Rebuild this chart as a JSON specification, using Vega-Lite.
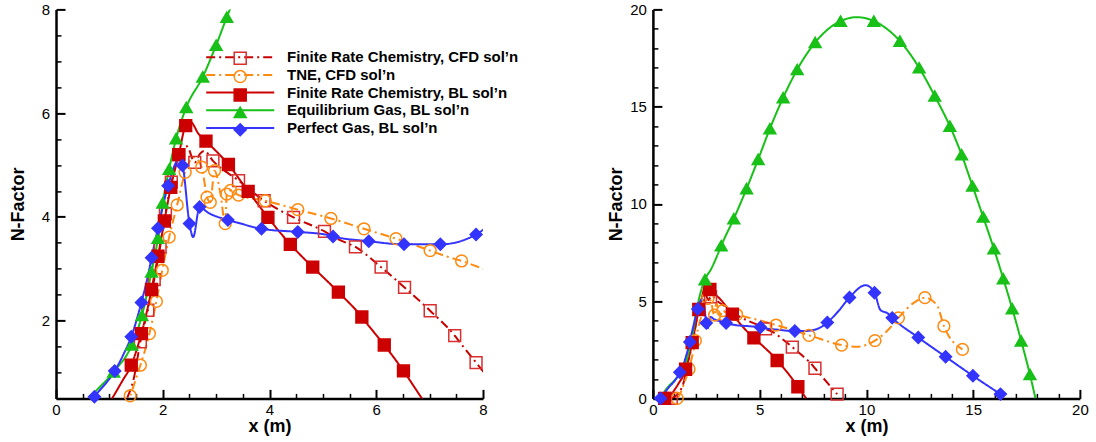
{
  "$schema": "https://vega.github.io/schema/vega-lite/v6.json",
  "padding": {"left": 9, "top": 2.4, "right": 5, "bottom": 0},
  "background": "white",
  "spacing": 87.9,
  "config": {
    "view": {"stroke": null},
    "font": "Liberation Sans",
    "axis": {
      "domainColor": "black", "domainWidth": 2.5, "tickColor": "black", "tickWidth": 2,
      "labelFont": "Liberation Sans", "labelFontSize": 15, "labelColor": "black",
      "titleFont": "Liberation Sans", "titleFontWeight": "bold", "titleFontSize": 18, "titleColor": "black",
      "grid": false, "labelFlush": false, "labelOverlap": false
    }
  },
  "resolve": {
    "scale": {"color": "independent", "strokeDash": "independent", "shape": "independent", "fill": "independent", "stroke": "independent"},
    "legend": {"color": "independent", "strokeDash": "independent", "shape": "independent", "fill": "independent", "stroke": "independent"}
  },
  "datasets": {
    "d": [
      {"s": "Finite Rate Chemistry, CFD sol’n", "x": 0.86, "y": 0, "L": 0, "R": 1},
      {"s": "Finite Rate Chemistry, CFD sol’n", "x": 1.15, "y": 0.2, "L": 0, "R": 0},
      {"s": "Finite Rate Chemistry, CFD sol’n", "x": 1.33, "y": 0.5, "L": 0, "R": 0},
      {"s": "Finite Rate Chemistry, CFD sol’n", "x": 1.46, "y": 0.9, "L": 0, "R": 0},
      {"s": "Finite Rate Chemistry, CFD sol’n", "x": 1.58, "y": 1.59, "L": 1, "R": 0},
      {"s": "Finite Rate Chemistry, CFD sol’n", "x": 1.72, "y": 2.2, "L": 1, "R": 0},
      {"s": "Finite Rate Chemistry, CFD sol’n", "x": 1.84, "y": 2.79, "L": 1, "R": 0},
      {"s": "Finite Rate Chemistry, CFD sol’n", "x": 1.95, "y": 3.42, "L": 1, "R": 0},
      {"s": "Finite Rate Chemistry, CFD sol’n", "x": 2.05, "y": 4.06, "L": 1, "R": 0},
      {"s": "Finite Rate Chemistry, CFD sol’n", "x": 2.16, "y": 4.67, "L": 1, "R": 0},
      {"s": "Finite Rate Chemistry, CFD sol’n", "x": 2.3, "y": 5.2, "L": 1, "R": 0},
      {"s": "Finite Rate Chemistry, CFD sol’n", "x": 2.45, "y": 5.36, "L": 0, "R": 0},
      {"s": "Finite Rate Chemistry, CFD sol’n", "x": 2.6, "y": 5.05, "L": 1, "R": 0},
      {"s": "Finite Rate Chemistry, CFD sol’n", "x": 2.7, "y": 5.22, "L": 0, "R": 1},
      {"s": "Finite Rate Chemistry, CFD sol’n", "x": 2.78, "y": 5.27, "L": 0, "R": 0},
      {"s": "Finite Rate Chemistry, CFD sol’n", "x": 2.94, "y": 5.08, "L": 1, "R": 0},
      {"s": "Finite Rate Chemistry, CFD sol’n", "x": 3.42, "y": 4.7, "L": 1, "R": 0},
      {"s": "Finite Rate Chemistry, CFD sol’n", "x": 3.9, "y": 4.31, "L": 1, "R": 0},
      {"s": "Finite Rate Chemistry, CFD sol’n", "x": 4.45, "y": 3.99, "L": 1, "R": 0},
      {"s": "Finite Rate Chemistry, CFD sol’n", "x": 5.03, "y": 3.72, "L": 1, "R": 0},
      {"s": "Finite Rate Chemistry, CFD sol’n", "x": 5.28, "y": 3.57, "L": 0, "R": 1},
      {"s": "Finite Rate Chemistry, CFD sol’n", "x": 5.61, "y": 3.42, "L": 1, "R": 0},
      {"s": "Finite Rate Chemistry, CFD sol’n", "x": 6.09, "y": 3.03, "L": 1, "R": 0},
      {"s": "Finite Rate Chemistry, CFD sol’n", "x": 6.53, "y": 2.64, "L": 1, "R": 1},
      {"s": "Finite Rate Chemistry, CFD sol’n", "x": 7.01, "y": 2.19, "L": 1, "R": 0},
      {"s": "Finite Rate Chemistry, CFD sol’n", "x": 7.47, "y": 1.71, "L": 1, "R": 0},
      {"s": "Finite Rate Chemistry, CFD sol’n", "x": 7.59, "y": 1.55, "L": 0, "R": 1},
      {"s": "Finite Rate Chemistry, CFD sol’n", "x": 7.87, "y": 1.19, "L": 1, "R": 0},
      {"s": "Finite Rate Chemistry, CFD sol’n", "x": 8.63, "y": 0.22, "L": 0, "R": 1},

      {"s": "TNE, CFD sol’n", "x": 1.14, "y": 0, "L": 0, "R": 1},
      {"s": "TNE, CFD sol’n", "x": 1.3, "y": 0.3, "L": 0, "R": 0},
      {"s": "TNE, CFD sol’n", "x": 1.39, "y": 0.55, "L": 1, "R": 0},
      {"s": "TNE, CFD sol’n", "x": 1.58, "y": 1.14, "L": 1, "R": 0},
      {"s": "TNE, CFD sol’n", "x": 1.69, "y": 1.51, "L": 0, "R": 1},
      {"s": "TNE, CFD sol’n", "x": 1.75, "y": 1.75, "L": 1, "R": 0},
      {"s": "TNE, CFD sol’n", "x": 1.88, "y": 2.37, "L": 1, "R": 0},
      {"s": "TNE, CFD sol’n", "x": 1.99, "y": 2.97, "L": 1, "R": 1},
      {"s": "TNE, CFD sol’n", "x": 2.12, "y": 3.61, "L": 1, "R": 0},
      {"s": "TNE, CFD sol’n", "x": 2.27, "y": 4.23, "L": 1, "R": 0},
      {"s": "TNE, CFD sol’n", "x": 2.42, "y": 4.86, "L": 1, "R": 0},
      {"s": "TNE, CFD sol’n", "x": 2.58, "y": 5.15, "L": 0, "R": 1},
      {"s": "TNE, CFD sol’n", "x": 2.73, "y": 4.96, "L": 1, "R": 0},
      {"s": "TNE, CFD sol’n", "x": 2.83, "y": 4.38, "L": 1, "R": 0},
      {"s": "TNE, CFD sol’n", "x": 2.89, "y": 4.28, "L": 1, "R": 1},
      {"s": "TNE, CFD sol’n", "x": 2.97, "y": 4.89, "L": 1, "R": 0},
      {"s": "TNE, CFD sol’n", "x": 3.08, "y": 4.45, "L": 0, "R": 0},
      {"s": "TNE, CFD sol’n", "x": 3.17, "y": 3.87, "L": 1, "R": 0},
      {"s": "TNE, CFD sol’n", "x": 3.2, "y": 4.44, "L": 1, "R": 0},
      {"s": "TNE, CFD sol’n", "x": 3.27, "y": 4.51, "L": 1, "R": 1},
      {"s": "TNE, CFD sol’n", "x": 3.42, "y": 4.42, "L": 1, "R": 0},
      {"s": "TNE, CFD sol’n", "x": 3.92, "y": 4.31, "L": 1, "R": 1},
      {"s": "TNE, CFD sol’n", "x": 4.53, "y": 4.14, "L": 1, "R": 0},
      {"s": "TNE, CFD sol’n", "x": 5.15, "y": 3.97, "L": 1, "R": 0},
      {"s": "TNE, CFD sol’n", "x": 5.77, "y": 3.77, "L": 1, "R": 1},
      {"s": "TNE, CFD sol’n", "x": 6.37, "y": 3.58, "L": 1, "R": 0},
      {"s": "TNE, CFD sol’n", "x": 7.01, "y": 3.35, "L": 1, "R": 0},
      {"s": "TNE, CFD sol’n", "x": 7.31, "y": 3.24, "L": 0, "R": 1},
      {"s": "TNE, CFD sol’n", "x": 7.6, "y": 3.15, "L": 1, "R": 0},
      {"s": "TNE, CFD sol’n", "x": 8.0, "y": 3.0, "L": 0, "R": 0},
      {"s": "TNE, CFD sol’n", "x": 8.84, "y": 2.74, "L": 0, "R": 1},
      {"s": "TNE, CFD sol’n", "x": 9.57, "y": 2.65, "L": 0, "R": 0},
      {"s": "TNE, CFD sol’n", "x": 10.4, "y": 2.97, "L": 0, "R": 1},
      {"s": "TNE, CFD sol’n", "x": 11.0, "y": 3.5, "L": 0, "R": 0},
      {"s": "TNE, CFD sol’n", "x": 11.5, "y": 4.14, "L": 0, "R": 1},
      {"s": "TNE, CFD sol’n", "x": 12.2, "y": 4.9, "L": 0, "R": 0},
      {"s": "TNE, CFD sol’n", "x": 12.74, "y": 5.18, "L": 0, "R": 1},
      {"s": "TNE, CFD sol’n", "x": 13.31, "y": 4.79, "L": 0, "R": 0},
      {"s": "TNE, CFD sol’n", "x": 13.63, "y": 3.72, "L": 0, "R": 1},
      {"s": "TNE, CFD sol’n", "x": 14.5, "y": 2.52, "L": 0, "R": 1},

      {"s": "Finite Rate Chemistry, BL sol’n", "x": 0.55, "y": 0, "L": 0, "R": 1},
      {"s": "Finite Rate Chemistry, BL sol’n", "x": 0.8, "y": 0.15, "L": 0, "R": 0},
      {"s": "Finite Rate Chemistry, BL sol’n", "x": 1.05, "y": 0.5, "L": 0, "R": 0},
      {"s": "Finite Rate Chemistry, BL sol’n", "x": 1.25, "y": 0.85, "L": 0, "R": 0},
      {"s": "Finite Rate Chemistry, BL sol’n", "x": 1.41, "y": 1.14, "L": 1, "R": 0},
      {"s": "Finite Rate Chemistry, BL sol’n", "x": 1.53, "y": 1.5, "L": 0, "R": 1},
      {"s": "Finite Rate Chemistry, BL sol’n", "x": 1.6, "y": 1.75, "L": 1, "R": 0},
      {"s": "Finite Rate Chemistry, BL sol’n", "x": 1.79, "y": 2.6, "L": 1, "R": 0},
      {"s": "Finite Rate Chemistry, BL sol’n", "x": 1.84, "y": 2.87, "L": 0, "R": 1},
      {"s": "Finite Rate Chemistry, BL sol’n", "x": 1.91, "y": 3.24, "L": 1, "R": 0},
      {"s": "Finite Rate Chemistry, BL sol’n", "x": 2.03, "y": 3.92, "L": 1, "R": 0},
      {"s": "Finite Rate Chemistry, BL sol’n", "x": 2.15, "y": 4.57, "L": 1, "R": 1},
      {"s": "Finite Rate Chemistry, BL sol’n", "x": 2.3, "y": 5.2, "L": 1, "R": 0},
      {"s": "Finite Rate Chemistry, BL sol’n", "x": 2.43, "y": 5.76, "L": 1, "R": 0},
      {"s": "Finite Rate Chemistry, BL sol’n", "x": 2.52, "y": 5.83, "L": 0, "R": 0},
      {"s": "Finite Rate Chemistry, BL sol’n", "x": 2.67, "y": 5.6, "L": 0, "R": 1},
      {"s": "Finite Rate Chemistry, BL sol’n", "x": 2.81, "y": 5.46, "L": 1, "R": 0},
      {"s": "Finite Rate Chemistry, BL sol’n", "x": 3.23, "y": 5.01, "L": 1, "R": 0},
      {"s": "Finite Rate Chemistry, BL sol’n", "x": 3.6, "y": 4.49, "L": 1, "R": 0},
      {"s": "Finite Rate Chemistry, BL sol’n", "x": 3.72, "y": 4.33, "L": 0, "R": 1},
      {"s": "Finite Rate Chemistry, BL sol’n", "x": 3.97, "y": 3.99, "L": 1, "R": 0},
      {"s": "Finite Rate Chemistry, BL sol’n", "x": 4.39, "y": 3.47, "L": 1, "R": 0},
      {"s": "Finite Rate Chemistry, BL sol’n", "x": 4.73, "y": 3.11, "L": 0, "R": 1},
      {"s": "Finite Rate Chemistry, BL sol’n", "x": 4.81, "y": 3.03, "L": 1, "R": 0},
      {"s": "Finite Rate Chemistry, BL sol’n", "x": 5.29, "y": 2.55, "L": 1, "R": 0},
      {"s": "Finite Rate Chemistry, BL sol’n", "x": 5.73, "y": 2.07, "L": 1, "R": 0},
      {"s": "Finite Rate Chemistry, BL sol’n", "x": 5.82, "y": 1.95, "L": 0, "R": 1},
      {"s": "Finite Rate Chemistry, BL sol’n", "x": 6.15, "y": 1.53, "L": 1, "R": 0},
      {"s": "Finite Rate Chemistry, BL sol’n", "x": 6.51, "y": 1.03, "L": 1, "R": 0},
      {"s": "Finite Rate Chemistry, BL sol’n", "x": 6.79, "y": 0.6, "L": 0, "R": 1},
      {"s": "Finite Rate Chemistry, BL sol’n", "x": 7.18, "y": 0, "L": 0, "R": 0},

      {"s": "Equilibrium Gas, BL sol’n", "x": 0.35, "y": 0, "L": 0, "R": 0},
      {"s": "Equilibrium Gas, BL sol’n", "x": 0.64, "y": 0.5, "L": 0, "R": 0},
      {"s": "Equilibrium Gas, BL sol’n", "x": 1.08, "y": 1.01, "L": 1, "R": 0},
      {"s": "Equilibrium Gas, BL sol’n", "x": 1.42, "y": 1.53, "L": 1, "R": 0},
      {"s": "Equilibrium Gas, BL sol’n", "x": 1.61, "y": 2.1, "L": 1, "R": 0},
      {"s": "Equilibrium Gas, BL sol’n", "x": 1.79, "y": 2.94, "L": 1, "R": 0},
      {"s": "Equilibrium Gas, BL sol’n", "x": 1.91, "y": 3.59, "L": 1, "R": 0},
      {"s": "Equilibrium Gas, BL sol’n", "x": 2.0, "y": 4.27, "L": 1, "R": 0},
      {"s": "Equilibrium Gas, BL sol’n", "x": 2.12, "y": 4.92, "L": 1, "R": 0},
      {"s": "Equilibrium Gas, BL sol’n", "x": 2.25, "y": 5.51, "L": 1, "R": 0},
      {"s": "Equilibrium Gas, BL sol’n", "x": 2.44, "y": 6.11, "L": 1, "R": 1},
      {"s": "Equilibrium Gas, BL sol’n", "x": 2.75, "y": 6.7, "L": 1, "R": 0},
      {"s": "Equilibrium Gas, BL sol’n", "x": 3.0, "y": 7.31, "L": 1, "R": 0},
      {"s": "Equilibrium Gas, BL sol’n", "x": 3.2, "y": 7.85, "L": 1, "R": 1},
      {"s": "Equilibrium Gas, BL sol’n", "x": 3.79, "y": 9.24, "L": 0, "R": 1},
      {"s": "Equilibrium Gas, BL sol’n", "x": 4.39, "y": 10.79, "L": 0, "R": 1},
      {"s": "Equilibrium Gas, BL sol’n", "x": 4.93, "y": 12.29, "L": 0, "R": 1},
      {"s": "Equilibrium Gas, BL sol’n", "x": 5.48, "y": 13.87, "L": 0, "R": 1},
      {"s": "Equilibrium Gas, BL sol’n", "x": 6.1, "y": 15.46, "L": 0, "R": 1},
      {"s": "Equilibrium Gas, BL sol’n", "x": 6.76, "y": 16.91, "L": 0, "R": 1},
      {"s": "Equilibrium Gas, BL sol’n", "x": 7.6, "y": 18.3, "L": 0, "R": 1},
      {"s": "Equilibrium Gas, BL sol’n", "x": 8.79, "y": 19.4, "L": 0, "R": 1},
      {"s": "Equilibrium Gas, BL sol’n", "x": 9.57, "y": 19.6, "L": 0, "R": 0},
      {"s": "Equilibrium Gas, BL sol’n", "x": 10.35, "y": 19.4, "L": 0, "R": 1},
      {"s": "Equilibrium Gas, BL sol’n", "x": 11.57, "y": 18.37, "L": 0, "R": 1},
      {"s": "Equilibrium Gas, BL sol’n", "x": 12.47, "y": 17.0, "L": 0, "R": 1},
      {"s": "Equilibrium Gas, BL sol’n", "x": 13.2, "y": 15.55, "L": 0, "R": 1},
      {"s": "Equilibrium Gas, BL sol’n", "x": 13.91, "y": 14.0, "L": 0, "R": 1},
      {"s": "Equilibrium Gas, BL sol’n", "x": 14.46, "y": 12.53, "L": 0, "R": 1},
      {"s": "Equilibrium Gas, BL sol’n", "x": 14.97, "y": 10.92, "L": 0, "R": 1},
      {"s": "Equilibrium Gas, BL sol’n", "x": 15.47, "y": 9.33, "L": 0, "R": 1},
      {"s": "Equilibrium Gas, BL sol’n", "x": 15.97, "y": 7.7, "L": 0, "R": 1},
      {"s": "Equilibrium Gas, BL sol’n", "x": 16.41, "y": 6.16, "L": 0, "R": 1},
      {"s": "Equilibrium Gas, BL sol’n", "x": 16.83, "y": 4.62, "L": 0, "R": 1},
      {"s": "Equilibrium Gas, BL sol’n", "x": 17.25, "y": 2.96, "L": 0, "R": 1},
      {"s": "Equilibrium Gas, BL sol’n", "x": 17.66, "y": 1.23, "L": 0, "R": 1},
      {"s": "Equilibrium Gas, BL sol’n", "x": 17.92, "y": 0, "L": 0, "R": 0},

      {"s": "Perfect Gas, BL sol’n", "x": 0.36, "y": 0, "L": 0, "R": 1},
      {"s": "Perfect Gas, BL sol’n", "x": 0.72, "y": 0.53, "L": 1, "R": 0},
      {"s": "Perfect Gas, BL sol’n", "x": 1.1, "y": 1.03, "L": 1, "R": 0},
      {"s": "Perfect Gas, BL sol’n", "x": 1.26, "y": 1.34, "L": 0, "R": 1},
      {"s": "Perfect Gas, BL sol’n", "x": 1.41, "y": 1.69, "L": 1, "R": 0},
      {"s": "Perfect Gas, BL sol’n", "x": 1.6, "y": 2.35, "L": 1, "R": 0},
      {"s": "Perfect Gas, BL sol’n", "x": 1.73, "y": 2.9, "L": 0, "R": 1},
      {"s": "Perfect Gas, BL sol’n", "x": 1.79, "y": 3.21, "L": 1, "R": 0},
      {"s": "Perfect Gas, BL sol’n", "x": 1.91, "y": 3.78, "L": 1, "R": 0},
      {"s": "Perfect Gas, BL sol’n", "x": 2.1, "y": 4.6, "L": 1, "R": 1},
      {"s": "Perfect Gas, BL sol’n", "x": 2.3, "y": 5.1, "L": 0, "R": 0},
      {"s": "Perfect Gas, BL sol’n", "x": 2.37, "y": 4.99, "L": 1, "R": 0},
      {"s": "Perfect Gas, BL sol’n", "x": 2.5, "y": 3.87, "L": 1, "R": 1},
      {"s": "Perfect Gas, BL sol’n", "x": 2.57, "y": 3.61, "L": 0, "R": 0},
      {"s": "Perfect Gas, BL sol’n", "x": 2.69, "y": 4.19, "L": 1, "R": 0},
      {"s": "Perfect Gas, BL sol’n", "x": 2.85, "y": 4.08, "L": 0, "R": 0},
      {"s": "Perfect Gas, BL sol’n", "x": 3.22, "y": 3.94, "L": 1, "R": 0},
      {"s": "Perfect Gas, BL sol’n", "x": 3.43, "y": 3.88, "L": 0, "R": 1},
      {"s": "Perfect Gas, BL sol’n", "x": 3.85, "y": 3.77, "L": 1, "R": 0},
      {"s": "Perfect Gas, BL sol’n", "x": 4.53, "y": 3.71, "L": 1, "R": 0},
      {"s": "Perfect Gas, BL sol’n", "x": 5.04, "y": 3.66, "L": 0, "R": 1},
      {"s": "Perfect Gas, BL sol’n", "x": 5.19, "y": 3.62, "L": 1, "R": 0},
      {"s": "Perfect Gas, BL sol’n", "x": 5.86, "y": 3.53, "L": 1, "R": 0},
      {"s": "Perfect Gas, BL sol’n", "x": 6.52, "y": 3.47, "L": 1, "R": 0},
      {"s": "Perfect Gas, BL sol’n", "x": 6.65, "y": 3.47, "L": 0, "R": 1},
      {"s": "Perfect Gas, BL sol’n", "x": 7.2, "y": 3.47, "L": 1, "R": 0},
      {"s": "Perfect Gas, BL sol’n", "x": 7.87, "y": 3.66, "L": 1, "R": 0},
      {"s": "Perfect Gas, BL sol’n", "x": 8.17, "y": 3.9, "L": 0, "R": 1},
      {"s": "Perfect Gas, BL sol’n", "x": 8.7, "y": 4.5, "L": 0, "R": 0},
      {"s": "Perfect Gas, BL sol’n", "x": 9.21, "y": 5.19, "L": 0, "R": 1},
      {"s": "Perfect Gas, BL sol’n", "x": 9.96, "y": 5.82, "L": 0, "R": 0},
      {"s": "Perfect Gas, BL sol’n", "x": 10.38, "y": 5.43, "L": 0, "R": 1},
      {"s": "Perfect Gas, BL sol’n", "x": 10.66, "y": 4.54, "L": 0, "R": 0},
      {"s": "Perfect Gas, BL sol’n", "x": 11.0, "y": 4.37, "L": 0, "R": 0},
      {"s": "Perfect Gas, BL sol’n", "x": 11.21, "y": 4.14, "L": 0, "R": 1},
      {"s": "Perfect Gas, BL sol’n", "x": 12.43, "y": 3.13, "L": 0, "R": 1},
      {"s": "Perfect Gas, BL sol’n", "x": 13.71, "y": 2.14, "L": 0, "R": 1},
      {"s": "Perfect Gas, BL sol’n", "x": 14.99, "y": 1.16, "L": 0, "R": 1},
      {"s": "Perfect Gas, BL sol’n", "x": 16.28, "y": 0.22, "L": 0, "R": 1}
    ]
  },
  "hconcat": [
    {
      "width": 427, "height": 389,
      "data": {"name": "d"},
      "resolve": {"axis": {"x": "independent", "y": "independent"}},
      "layer": [
        {
          "mark": {"type": "line", "clip": true, "interpolate": "monotone", "strokeWidth": 2},
          "encoding": {
            "x": {"field": "x", "type": "quantitative", "scale": {"domain": [0, 8], "nice": false, "zero": false},
              "axis": {"orient": "bottom", "title": "x (m)", "values": [0, 2, 4, 6, 8], "tickSize": -9, "labelPadding": 13, "titlePadding": 0.3}},
            "y": {"field": "y", "type": "quantitative", "scale": {"domain": [0.5, 8], "nice": false, "zero": false},
              "axis": {"orient": "left", "title": "N-Factor", "values": [2, 4, 6, 8], "tickSize": -9, "labelPadding": 15.5, "titlePadding": 13.8}},
            "color": {"field": "s", "type": "nominal",
              "scale": {"domain": ["Finite Rate Chemistry, CFD sol’n", "TNE, CFD sol’n", "Finite Rate Chemistry, BL sol’n", "Equilibrium Gas, BL sol’n", "Perfect Gas, BL sol’n"],
                "range": ["#c80000", "#ff8a10", "#cc0000", "#18c018", "#3434ff"]},
              "legend": {"title": null, "orient": "none", "legendX": 176.7, "legendY": 40.3, "symbolType": "M-5.67,0H5.67", "symbolSize": 144, "symbolStrokeWidth": 2,
                "labelFont": "Liberation Sans", "labelFontSize": 15, "labelFontWeight": "bold", "labelColor": "black", "labelOffset": 39.3, "labelLimit": 500, "rowPadding": 1.7, "padding": 0}},
            "strokeDash": {"field": "s", "type": "nominal",
              "scale": {"domain": ["Finite Rate Chemistry, CFD sol’n", "TNE, CFD sol’n", "Finite Rate Chemistry, BL sol’n", "Equilibrium Gas, BL sol’n", "Perfect Gas, BL sol’n"],
                "range": [[9, 4, 2, 4], [9, 4, 2, 4], [1, 0], [1, 0], [1, 0]]},
              "legend": {"title": null, "orient": "none", "legendX": 176.7, "legendY": 40.3, "symbolType": "M-5.67,0H5.67", "symbolSize": 144, "symbolStrokeWidth": 2,
                "labelFont": "Liberation Sans", "labelFontSize": 15, "labelFontWeight": "bold", "labelColor": "black", "labelOffset": 39.3, "labelLimit": 500, "rowPadding": 1.7, "padding": 0}}
          }
        },
        {
          "transform": [{"filter": "datum.L == 1"}],
          "mark": {"type": "point", "strokeWidth": 1.5, "opacity": 1, "size": 140},
          "encoding": {
            "x": {"field": "x", "type": "quantitative",
              "axis": {"orient": "bottom", "title": null, "labels": false, "domain": false, "values": [0.5,1,1.5,2.5,3,3.5,4.5,5,5.5,6.5,7,7.5], "tickSize": -5, "tickWidth": 1.5}},
            "y": {"field": "y", "type": "quantitative",
              "axis": {"orient": "left", "title": null, "labels": false, "domain": false, "values": [0.5,1,1.5,2.5,3,3.5,4.5,5,5.5,6.5,7,7.5], "tickSize": -5, "tickWidth": 1.5}},
            "shape": {"field": "s", "type": "nominal",
              "scale": {"domain": ["Finite Rate Chemistry, CFD sol’n", "TNE, CFD sol’n", "Finite Rate Chemistry, BL sol’n", "Equilibrium Gas, BL sol’n", "Perfect Gas, BL sol’n", "·"],
                "range": ["square", "circle", "square", "triangle-up", "diamond", "circle"]},
              "legend": {"title": null, "orient": "none", "legendX": 176.7, "legendY": 41.3, "symbolSize": 144, "symbolFillColor": "transparent", "symbolStrokeColor": "transparent",
                "labelFont": "Liberation Sans", "labelFontSize": 15, "labelFontWeight": "bold", "labelExpr": "' '", "labelOffset": 2, "symbolStrokeWidth": 1.5, "rowPadding": -0.6, "padding": 0}},
            "fill": {"field": "s", "type": "nominal",
              "scale": {"domain": ["Finite Rate Chemistry, CFD sol’n", "TNE, CFD sol’n", "Finite Rate Chemistry, BL sol’n", "Equilibrium Gas, BL sol’n", "Perfect Gas, BL sol’n", "·"],
                "range": ["transparent", "transparent", "#cc0000", "#18c018", "#3434ff", "transparent"]},
              "legend": {"title": null, "orient": "none", "legendX": 176.7, "legendY": 41.3, "symbolSize": 144, "symbolFillColor": "transparent", "symbolStrokeColor": "transparent",
                "labelFont": "Liberation Sans", "labelFontSize": 15, "labelFontWeight": "bold", "labelExpr": "' '", "labelOffset": 2, "symbolStrokeWidth": 1.5, "rowPadding": -0.6, "padding": 0}},
            "stroke": {"field": "s", "type": "nominal",
              "scale": {"domain": ["Finite Rate Chemistry, CFD sol’n", "TNE, CFD sol’n", "Finite Rate Chemistry, BL sol’n", "Equilibrium Gas, BL sol’n", "Perfect Gas, BL sol’n", "·"],
                "range": ["#d83030", "#ff8a10", "#cc0000", "#18c018", "#3434ff", "transparent"]},
              "legend": {"title": null, "orient": "none", "legendX": 176.7, "legendY": 41.3, "symbolSize": 144, "symbolFillColor": "transparent", "symbolStrokeColor": "transparent",
                "labelFont": "Liberation Sans", "labelFontSize": 15, "labelFontWeight": "bold", "labelExpr": "' '", "labelOffset": 2, "symbolStrokeWidth": 1.5, "rowPadding": -0.6, "padding": 0}}
          }
        }
      ]
    },
    {
      "width": 427, "height": 389,
      "data": {"name": "d"},
      "resolve": {"axis": {"x": "independent", "y": "independent"}},
      "layer": [
        {
          "mark": {"type": "line", "clip": true, "interpolate": "monotone", "strokeWidth": 2},
          "encoding": {
            "x": {"field": "x", "type": "quantitative", "scale": {"domain": [0, 20], "nice": false, "zero": false},
              "axis": {"orient": "bottom", "title": "x (m)", "values": [0, 5, 10, 15, 20], "tickSize": -9, "labelPadding": 13, "titlePadding": 0.3}},
            "y": {"field": "y", "type": "quantitative", "scale": {"domain": [0, 20], "nice": false, "zero": false},
              "axis": {"orient": "left", "title": "N-Factor", "values": [0, 5, 10, 15, 20], "tickSize": -9, "labelPadding": 15.5, "titlePadding": 4.5}},
            "color": {"field": "s", "type": "nominal",
              "scale": {"domain": ["Finite Rate Chemistry, CFD sol’n", "TNE, CFD sol’n", "Finite Rate Chemistry, BL sol’n", "Equilibrium Gas, BL sol’n", "Perfect Gas, BL sol’n"],
                "range": ["#c80000", "#ff8a10", "#cc0000", "#18c018", "#3434ff"]}, "legend": null},
            "strokeDash": {"field": "s", "type": "nominal",
              "scale": {"domain": ["Finite Rate Chemistry, CFD sol’n", "TNE, CFD sol’n", "Finite Rate Chemistry, BL sol’n", "Equilibrium Gas, BL sol’n", "Perfect Gas, BL sol’n"],
                "range": [[9, 4, 2, 4], [9, 4, 2, 4], [1, 0], [1, 0], [1, 0]]}, "legend": null}
          }
        },
        {
          "transform": [{"filter": "datum.R == 1"}],
          "mark": {"type": "point", "strokeWidth": 1.5, "opacity": 1, "size": 140},
          "encoding": {
            "x": {"field": "x", "type": "quantitative",
              "axis": {"orient": "bottom", "title": null, "labels": false, "domain": false, "values": [1,2,3,4,6,7,8,9,11,12,13,14,16,17,18,19], "tickSize": -5, "tickWidth": 1.5}},
            "y": {"field": "y", "type": "quantitative",
              "axis": {"orient": "left", "title": null, "labels": false, "domain": false, "values": [1,2,3,4,6,7,8,9,11,12,13,14,16,17,18,19], "tickSize": -5, "tickWidth": 1.5}},
            "shape": {"field": "s", "type": "nominal",
              "scale": {"domain": ["Finite Rate Chemistry, CFD sol’n", "TNE, CFD sol’n", "Finite Rate Chemistry, BL sol’n", "Equilibrium Gas, BL sol’n", "Perfect Gas, BL sol’n"],
                "range": ["square", "circle", "square", "triangle-up", "diamond"]}, "legend": null},
            "fill": {"field": "s", "type": "nominal",
              "scale": {"domain": ["Finite Rate Chemistry, CFD sol’n", "TNE, CFD sol’n", "Finite Rate Chemistry, BL sol’n", "Equilibrium Gas, BL sol’n", "Perfect Gas, BL sol’n"],
                "range": ["transparent", "transparent", "#cc0000", "#18c018", "#3434ff"]}, "legend": null},
            "stroke": {"field": "s", "type": "nominal",
              "scale": {"domain": ["Finite Rate Chemistry, CFD sol’n", "TNE, CFD sol’n", "Finite Rate Chemistry, BL sol’n", "Equilibrium Gas, BL sol’n", "Perfect Gas, BL sol’n"],
                "range": ["#d83030", "#ff8a10", "#cc0000", "#18c018", "#3434ff"]}, "legend": null}
          }
        }
      ]
    }
  ]
}
